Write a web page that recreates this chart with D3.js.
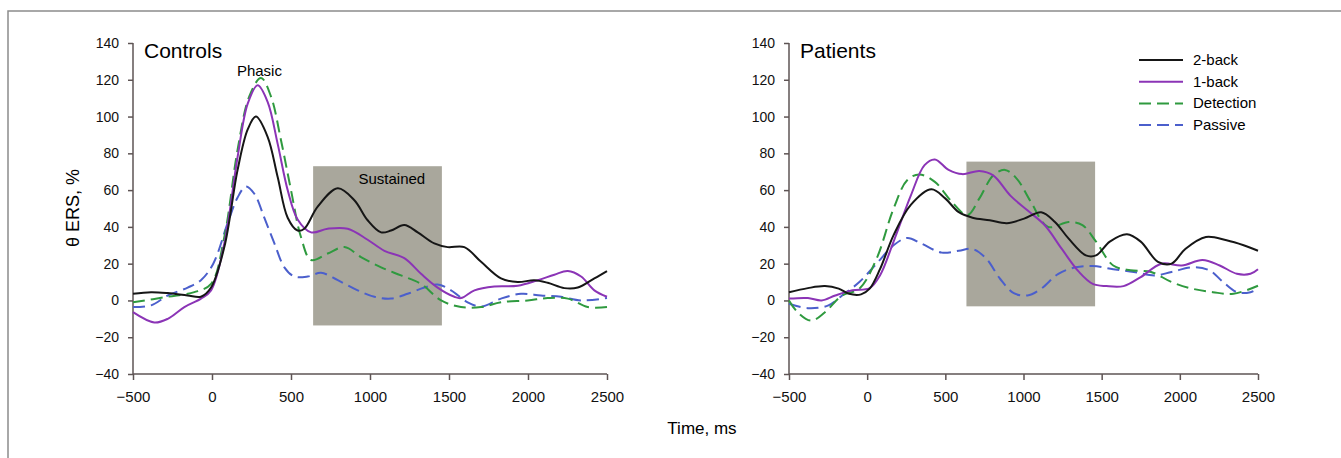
<!DOCTYPE html>
<html>
<head>
<meta charset="utf-8">
<script src="https://cdn.jsdelivr.net/npm/d3@7"></script>
<style>
  body { margin: 0; background: #fff; }
  svg { display: block; font-family: "Liberation Sans", Arial, sans-serif; }
  .axis path, .axis line { stroke: #5e5454; stroke-width: 1.5; }
  .axis text { fill: #111; }
  .x-axis text { font-size: 15px; }
  .y-axis text { font-size: 14px; }
</style>
</head>
<body>
<div id="chart"></div>
<script>
const seriesNames = ['2-back', '1-back', 'Detection', 'Passive'];
const seriesColors = ['#161616', '#8b34b6', '#2f9a3f', '#4b5fcc'];
const seriesDashes = [null, null, '12,6', '12,6'];

const xTicks = [-500, 0, 500, 1000, 1500, 2000, 2500];
const yTicks = [-40, -20, 0, 20, 40, 60, 80, 100, 120, 140];

// [time ms, ERS %]
const controls2back = [[-500,3.6],[-386,4.5],[-280,4],[-154,2.7],[-70,2],[-6,7],[78,29],[162,71],[226,93],[278,100],[352,89],[416,67],[479,45],[542,38],[584,39],[669,51],[796,61],[901,54.5],[985,43.6],[1070,37],[1133,38],[1217,41],[1302,37],[1407,31],[1492,29],[1597,29],[1703,21],[1829,12],[1935,10],[2040,11],[2125,9.6],[2230,6.7],[2315,7],[2420,12],[2500,16]];
const controls1back = [[-500,-6.4],[-365,-12],[-280,-10],[-175,-3.6],[-70,1],[-6,5.5],[78,31],[162,78],[226,107],[289,117],[352,108],[416,85],[479,60],[542,44],[627,37],[732,39],[859,39],[985,33],[1091,27],[1217,23],[1323,14.5],[1428,7],[1534,2],[1576,1.3],[1661,5.5],[1787,7.6],[1935,8],[2061,11],[2167,14],[2252,16],[2336,13],[2420,5.5],[2500,2]];
const controlsDetection = [[-500,-1],[-280,2],[-112,4.5],[-6,9],[78,34.5],[162,82],[236,111],[310,121],[373,111],[437,87],[500,60],[563,34.5],[627,22],[732,25.5],[838,29],[943,23.6],[1070,18],[1196,13.6],[1323,9],[1450,0],[1576,-3.6],[1703,-3.6],[1829,-1],[1998,0],[2125,1.3],[2252,1],[2378,-3.6],[2500,-3.6]];
const controlsPassive = [[-500,-3.6],[-386,-2.7],[-280,2.7],[-154,7],[-70,11],[8,20],[99,42],[162,56],[215,62],[268,58],[331,45],[395,31],[458,18],[521,13],[606,13],[690,15],[796,11],[922,5.5],[1028,2],[1133,1],[1238,3.6],[1344,7],[1428,8.7],[1513,5.5],[1618,-1],[1703,-3.3],[1829,1],[1956,3.6],[2082,2.7],[2209,2],[2336,0],[2500,1.3]];

const patients2back = [[-500,4.5],[-379,6.7],[-270,7.8],[-182,6.4],[-116,3.6],[-39,3.3],[16,6.4],[82,17],[169,35.5],[279,52],[411,60.5],[499,55.5],[586,48],[674,45],[784,43.6],[894,42],[1004,44.5],[1113,48],[1201,42.7],[1289,33.6],[1399,24.5],[1464,24.5],[1552,32],[1662,36],[1750,32],[1860,21],[1947,20],[2035,28],[2167,34.5],[2299,32.7],[2408,30],[2500,27]];
const patients1back = [[-500,1],[-379,1.3],[-291,0],[-204,2.7],[-94,5.5],[16,6.7],[82,13.6],[169,32],[279,57],[367,73.6],[433,76.7],[521,71],[608,68.7],[718,70.4],[806,68],[916,57],[1025,49],[1135,41],[1245,28],[1355,15.5],[1443,9],[1530,7.8],[1640,7.8],[1750,12.7],[1882,20],[2013,19],[2145,22],[2255,19],[2365,14.5],[2452,14.5],[2500,17]];
const patientsDetection = [[-500,0],[-445,-6.4],[-357,-11],[-270,-6.4],[-160,2.7],[-50,6.4],[60,22.7],[169,50],[257,65.5],[334,68.5],[433,64.5],[542,53.6],[641,46.4],[718,55.5],[806,68],[882,71],[959,66],[1047,53.6],[1157,40],[1289,42.7],[1377,41],[1464,32],[1574,19],[1684,16.4],[1816,15.5],[1947,10],[2079,6.4],[2211,4.5],[2343,3.6],[2500,8]];
const patientsPassive = [[-500,-1.8],[-379,-4.2],[-248,-2.7],[-160,2.7],[-50,10],[60,20],[169,30],[257,34],[345,31],[477,26],[586,27],[674,28],[762,22.7],[850,11.8],[938,4],[1025,2.7],[1113,6.4],[1223,14.5],[1333,18],[1443,18.7],[1574,17],[1706,15.5],[1838,13.6],[1947,15.5],[2079,18],[2189,16.4],[2277,10],[2365,4.5],[2452,4.5],[2500,6.4]];

// sustained window [t0, t1, v0, v1]
const controlsWindow = [640, 1455, -13.6, 73];
const patientsWindow = [635, 1458, -3.2, 75.5];

const panels = [
  { title: 'Controls', x0: 133, x1: 607, series: [controls2back, controls1back, controlsDetection, controlsPassive], box: controlsWindow },
  { title: 'Patients', x0: 789, x1: 1258, series: [patients2back, patients1back, patientsDetection, patientsPassive], box: patientsWindow }
];

const W = 1341, H = 458;
const svg = d3.select('#chart').append('svg').attr('width', W).attr('height', H);

// frame
svg.append('rect')
  .attr('x', 8).attr('y', 11).attr('width', W + 10).attr('height', H + 10)
  .attr('fill', 'none').attr('stroke', '#8c8c8c').attr('stroke-width', 1.5);

const y = d3.scaleLinear().domain([-40, 140]).range([374, 43]);

panels.forEach((p, pi) => {
  const x = d3.scaleLinear().domain([-500, 2500]).range([p.x0, p.x1]);
  const g = svg.append('g');

  g.append('rect')
    .attr('x', x(p.box[0])).attr('y', y(p.box[3]))
    .attr('width', x(p.box[1]) - x(p.box[0]))
    .attr('height', y(p.box[2]) - y(p.box[3]))
    .attr('fill', '#a9a79c');

  const xAxis = g.append('g').attr('class', 'axis x-axis')
    .attr('transform', `translate(0,${y(-40)})`)
    .call(d3.axisBottom(x).tickValues(xTicks).tickSize(6).tickPadding(11).tickFormat(d3.format('d')));
  xAxis.select('.domain').attr('d', `M${p.x0},0H${p.x1}`);

  const yAxis = g.append('g').attr('class', 'axis y-axis')
    .attr('transform', `translate(${p.x0},0)`)
    .call(d3.axisLeft(y).tickValues(yTicks).tickSize(5).tickPadding(9).tickFormat(d3.format('d')));
  yAxis.select('.domain').attr('d', `M0,${y(140)}V${y(-40)}`);

  const line = d3.line()
    .x(d => x(d[0])).y(d => y(d[1]))
    .curve(d3.curveCatmullRom.alpha(0.5));

  // dashed first so solid lines sit on top
  [3, 2, 1, 0].forEach(i => {
    g.append('path')
      .datum(p.series[i])
      .attr('d', line)
      .attr('fill', 'none')
      .attr('stroke', seriesColors[i])
      .attr('stroke-width', 2)
      .attr('stroke-dasharray', seriesDashes[i]);
  });

  g.append('text')
    .attr('x', p.x0 + 11).attr('y', y(140) + 15)
    .attr('font-size', 21).text(p.title);

  if (pi === 0) {
    g.append('text').attr('x', x(300)).attr('y', y(125) + 5)
      .attr('text-anchor', 'middle').attr('font-size', 15).text('Phasic');
    g.append('text').attr('x', x(1138)).attr('y', y(66) + 5)
      .attr('text-anchor', 'middle').attr('font-size', 15).text('Sustained');
  }
});

// legend
const legend = svg.append('g');
seriesNames.forEach((name, i) => {
  const ly = 60 + i * 21.7;
  legend.append('line')
    .attr('x1', 1139).attr('x2', 1183).attr('y1', ly).attr('y2', ly)
    .attr('stroke', seriesColors[i]).attr('stroke-width', 2)
    .attr('stroke-dasharray', seriesDashes[i]);
  legend.append('text')
    .attr('x', 1193).attr('y', ly + 5)
    .attr('font-size', 15).text(name);
});

// axis titles
svg.append('text')
  .attr('transform', 'translate(79,208) rotate(-90)')
  .attr('text-anchor', 'middle').attr('font-size', 18)
  .text('θ ERS, %');
svg.append('text')
  .attr('x', 702).attr('y', 434)
  .attr('text-anchor', 'middle').attr('font-size', 17)
  .text('Time, ms');
</script>
</body>
</html>
